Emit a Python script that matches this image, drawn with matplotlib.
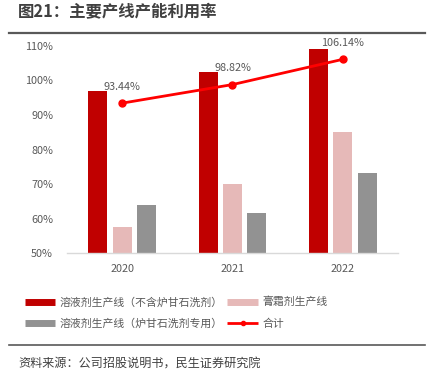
import matplotlib
matplotlib.use("Agg")
import matplotlib.pyplot as plt
import numpy as np
from matplotlib.lines import Line2D

plt.rcParams['font.family'] = ['Noto Sans CJK SC', 'DejaVu Sans']

years = ["2020", "2021", "2022"]
solution_ex = [97.0, 102.4, 109.0]      # 溶液剂生产线（不含炉甘石洗剂）
cream = [57.5, 70.0, 85.2]              # 膏霜剂生产线
solution_lgs = [64.0, 61.6, 73.3]       # 溶液剂生产线（炉甘石洗剂专用）
total = [93.44, 98.82, 106.14]          # 合计

fig = plt.figure(figsize=(4.35, 3.81), dpi=100)
ax = fig.add_axes([67 / 435, 1 - 253 / 381, 331 / 435, 207 / 381])

x = np.arange(len(years))
w = 0.172
step = 0.22
ax.bar(x - step, solution_ex, w, color="#C00000")
ax.bar(x, cream, w, color="#E6B9B8")
ax.bar(x + step, solution_lgs, w, color="#929292")
ax.plot(x, total, color="#FF0000", lw=2, marker="o", ms=5)
for xi, v in zip(x, total):
    ax.annotate(f"{v:.2f}%", (xi, v), xytext=(0, 8), textcoords="offset points",
                ha="center", va="bottom", fontsize=7.8, color="#595959")

ax.set_ylim(50, 110)
ax.set_xlim(-0.5, 2.5)
ax.set_yticks(np.arange(50, 111, 10))
ax.set_yticklabels([f"{t}%" for t in range(50, 111, 10)])
ax.set_xticks(x)
ax.set_xticklabels(years)
ax.tick_params(length=0, labelsize=7.8, colors="#595959")
ax.tick_params(axis="y", pad=10)
ax.tick_params(axis="x", pad=8)
for s in ["top", "right", "left"]:
    ax.spines[s].set_visible(False)
ax.spines["bottom"].set_color("#D9D9D9")
ax.spines["bottom"].set_linewidth(1)

handles = [
    Line2D([], [], color="#C00000", lw=5, solid_capstyle="butt"),
    Line2D([], [], color="#929292", lw=5, solid_capstyle="butt"),
    Line2D([], [], color="#E6B9B8", lw=5, solid_capstyle="butt"),
    Line2D([], [], color="#FF0000", lw=2, marker="o", ms=3, solid_capstyle="butt"),
]
labels = ["溶液剂生产线（不含炉甘石洗剂）", "溶液剂生产线（炉甘石洗剂专用）", "膏霜剂生产线", "合计"]
fig.legend(handles, labels, ncol=2, loc="upper left", bbox_to_anchor=(15 / 435, 1 - 287 / 381),
           frameon=False, fontsize=7.8, handlelength=2.8, columnspacing=0.4,
           labelspacing=1.0, handletextpad=0.45, labelcolor="#595959")

fig.text(18 / 435, 1 - 12 / 381, "图21：主要产线产能利用率", fontsize=11.8, fontweight="bold",
         color="#404040", va="center")
fig.add_artist(Line2D([9 / 435, 425 / 435], [1 - 33 / 381] * 2, color="#595959", lw=1.6))
fig.add_artist(Line2D([9 / 435, 425 / 435], [1 - 345 / 381] * 2, color="#595959", lw=1.2))
fig.text(18 / 435, 1 - 364 / 381, "资料来源：公司招股说明书，民生证券研究院", fontsize=8.7,
         color="#404040", va="center")

fig.savefig("out.png", dpi=100)
